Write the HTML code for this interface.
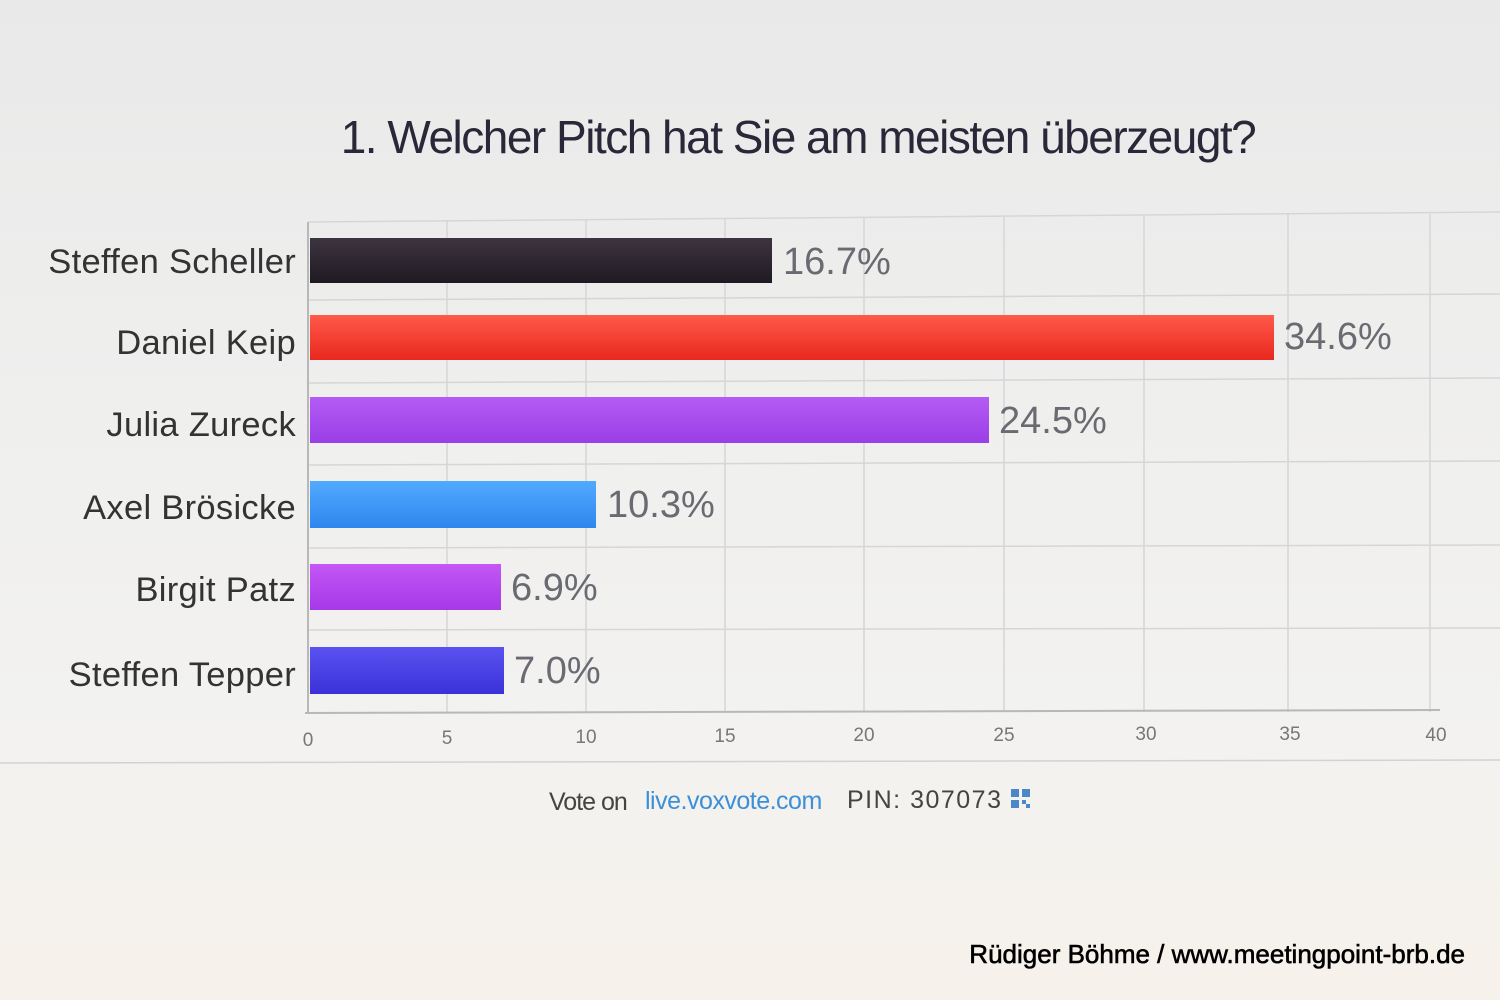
<!DOCTYPE html>
<html><head><meta charset="utf-8"><style>
html,body{margin:0;padding:0}
body{width:1500px;height:1000px;overflow:hidden;background:linear-gradient(180deg,#e9e9e9 0%,#efefee 40%,#f3f2f0 75%,#f6f1ea 100%);font-family:"Liberation Sans",sans-serif}
</style></head><body>
<svg width="1500" height="1000" xmlns="http://www.w3.org/2000/svg" style="position:absolute;left:0;top:0">
<defs>
<linearGradient id="g1" x1="0" y1="0" x2="0" y2="1"><stop offset="0" stop-color="#3d3440"/><stop offset="1" stop-color="#1f1a22"/></linearGradient>
<linearGradient id="g2" x1="0" y1="0" x2="0" y2="1"><stop offset="0" stop-color="#ff5a4a"/><stop offset="1" stop-color="#e8281e"/></linearGradient>
<linearGradient id="g3" x1="0" y1="0" x2="0" y2="1"><stop offset="0" stop-color="#b45cf5"/><stop offset="1" stop-color="#9a3ee6"/></linearGradient>
<linearGradient id="g4" x1="0" y1="0" x2="0" y2="1"><stop offset="0" stop-color="#52aaff"/><stop offset="1" stop-color="#2f86ee"/></linearGradient>
<linearGradient id="g5" x1="0" y1="0" x2="0" y2="1"><stop offset="0" stop-color="#c457f5"/><stop offset="1" stop-color="#a638e8"/></linearGradient>
<linearGradient id="g6" x1="0" y1="0" x2="0" y2="1"><stop offset="0" stop-color="#5a52f0"/><stop offset="1" stop-color="#3a32d8"/></linearGradient>
</defs>
<text x="798" y="153" font-size="46" text-anchor="middle" fill="#2a2838" letter-spacing="-1.5">1. Welcher Pitch hat Sie am meisten überzeugt?</text>
<g stroke="#d6d6d6" stroke-width="1.5">
<line x1="447" y1="220" x2="447" y2="712"/><line x1="586" y1="220" x2="586" y2="712"/><line x1="725" y1="218" x2="725" y2="712"/><line x1="864" y1="218" x2="864" y2="712"/><line x1="1004" y1="216" x2="1004" y2="712"/><line x1="1144" y1="216" x2="1144" y2="712"/><line x1="1288" y1="214" x2="1288" y2="712"/><line x1="1430" y1="214" x2="1430" y2="712"/>
<line x1="308" y1="222" x2="1500" y2="212"/><line x1="308" y1="300" x2="1500" y2="294"/><line x1="308" y1="383" x2="1500" y2="378"/><line x1="308" y1="465" x2="1500" y2="461"/><line x1="308" y1="548" x2="1500" y2="545"/><line x1="308" y1="630" x2="1500" y2="628"/>
</g>
<line x1="308" y1="222" x2="308" y2="714" stroke="#b8b8b8" stroke-width="2"/>
<line x1="305" y1="713" x2="1440" y2="710" stroke="#b8b8b8" stroke-width="2"/>
<line x1="0" y1="763" x2="1500" y2="760" stroke="#d2d2d2" stroke-width="1.5"/>
<rect x="310" y="238" width="462" height="45" fill="url(#g1)"/>
<rect x="310" y="315" width="964" height="45" fill="url(#g2)"/>
<rect x="310" y="397" width="679" height="46" fill="url(#g3)"/>
<rect x="310" y="481" width="286" height="47" fill="url(#g4)"/>
<rect x="310" y="564" width="191" height="46" fill="url(#g5)"/>
<rect x="310" y="647" width="194" height="47" fill="url(#g6)"/>
<g font-size="38" fill="#6a6a72">
<text x="783" y="274">16.7%</text><text x="1284" y="349">34.6%</text><text x="999" y="433">24.5%</text><text x="607" y="517">10.3%</text><text x="511" y="600">6.9%</text><text x="514" y="683">7.0%</text>
</g>
<g font-size="34.5" fill="#333" text-anchor="end" letter-spacing="0.3">
<text x="296" y="273">Steffen Scheller</text><text x="296" y="354">Daniel Keip</text><text x="296" y="436">Julia Zureck</text><text x="296" y="519">Axel Brösicke</text><text x="296" y="601">Birgit Patz</text><text x="296" y="686">Steffen Tepper</text>
</g>
<g font-size="19" fill="#777" text-anchor="middle">
<text x="308" y="746">0</text><text x="447" y="744">5</text><text x="586" y="743">10</text><text x="725" y="742">15</text><text x="864" y="741">20</text><text x="1004" y="741">25</text><text x="1146" y="740">30</text><text x="1290" y="740">35</text><text x="1436" y="741">40</text>
</g>
<text x="549" y="810" font-size="25" fill="#444" letter-spacing="-1">Vote on</text>
<text x="645" y="809" font-size="25" fill="#3d8fd8" letter-spacing="-0.5">live.voxvote.com</text>
<text x="847" y="808" font-size="25" fill="#444" letter-spacing="1.5">PIN: 307073</text>
<g fill="#4a86c8"><rect x="1011" y="789" width="8" height="8"/><rect x="1022" y="789" width="8" height="8"/><rect x="1011" y="800" width="8" height="8"/><rect x="1022" y="800" width="4" height="4"/><rect x="1026" y="804" width="4" height="4"/></g>
<text x="1465" y="963" font-size="26" fill="#000" stroke="#000" stroke-width="0.6" text-anchor="end">Rüdiger Böhme / www.meetingpoint-brb.de</text>
</svg>
</body></html>
